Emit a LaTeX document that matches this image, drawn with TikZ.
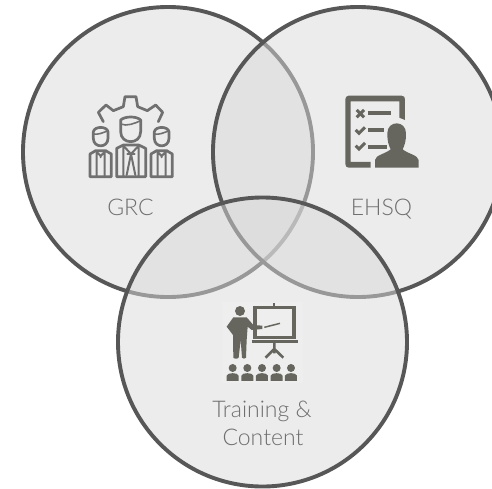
\documentclass[tikz,border=0pt]{standalone}
\usepackage{fontspec}
\setmainfont[UprightFont=* Light]{Lato}
\definecolor{ringc}{HTML}{575757}
\definecolor{fillc}{HTML}{DADADA}
\definecolor{iconc}{HTML}{66665F}
\definecolor{gearc}{HTML}{707070}
\definecolor{labelc}{HTML}{6E6E6E}
\tikzset{
  ring/.style={draw=ringc,line width=3.9pt,fill=fillc,fill opacity=.5},
  lab/.style={text=labelc,font=\fontsize{23}{28}\selectfont,align=center,inner sep=0pt},
  gearline/.style={draw=gearc,line width=2.7pt,line join=round,line cap=round,fill=none},
  solid icon/.style={fill=iconc,draw=none}
}
\begin{document}
\begin{tikzpicture}[x=1pt,y=-1pt]
\useasboundingbox (0,0) rectangle (492,488);
\clip (0,0) rectangle (492,488);
\fill[white] (0,0) rectangle (492,488);
\path[ring] (168,152) circle[radius=145];
\path[ring] (358,152) circle[radius=145];
\path[ring] (262.5,342) circle[radius=144.5];
% GRC icon
\begin{scope}[shift={(70,80)},x=.3333pt,y=-.3333pt]
\draw[gearline] (100,125)--(85,97)--(108,75)--(130,92)--(160,80)--(165,50)--(198,50)--(203,80)--(232,92)--(257,75)--(278,97)--(265,125);
\draw[gearline] (152,120) .. controls (165,108) and (200,108) .. (212,120) -- (212,155) .. controls (212,195) and (152,195) .. (152,155) -- cycle;
\draw[gearline,line width=1.6pt] (152,132) .. controls (170,140) and (195,130) .. (212,122);
\foreach \cx in {92,275}{
  \draw[gearline] (\cx-22,155) .. controls (\cx-18,138) and (\cx+18,138) .. (\cx+22,155) -- (\cx+22,175) .. controls (\cx+22,205) and (\cx-22,205) .. (\cx-22,175) -- cycle;
  \draw[gearline,line width=1.6pt] (\cx-22,162) .. controls (\cx-8,165) and (\cx+8,158) .. (\cx+22,152);
  \draw[gearline] (\cx-32,290) -- (\cx-32,222) -- (\cx-15,212) -- (\cx+15,212) -- (\cx+32,222) -- (\cx+32,290) -- cycle;
  \draw[gearline,line width=2pt] (\cx-12,214) -- (\cx-12,290) (\cx+12,214) -- (\cx+12,290) (\cx-14,214) -- (\cx,228) -- (\cx+14,214) (\cx,228) -- (\cx,232);
}
\draw[gearline] (140,290) -- (140,205) -- (160,195) -- (206,195) -- (227,205) -- (227,290) -- cycle;
\draw[gearline,line width=2pt] (160,197) -- (183,222) -- (206,197) (183,222) -- (170,285) (183,222) -- (196,285) (160,197) -- (160,290) (206,197) -- (206,290) (172,222) -- (194,222);
\end{scope}
% EHSQ icon
\begin{scope}[shift={(330,80)},x=.3333pt,y=-.3333pt]
\draw[solid icon,even odd rule] (56,47) -- (215,47) .. controls (222,47) and (225,52) .. (225,58) -- (225,120) -- (208,113) -- (208,64) -- (62,64) -- (62,246) -- (122,246) -- (122,263) -- (56,263) .. controls (50,263) and (46,258) .. (46,252) -- (46,58) .. controls (46,52) and (50,47) .. (56,47) -- cycle;
\draw[iconc,line width=3pt] (80,90) -- (102,112) (102,90) -- (80,112);
\fill[iconc] (115,94) rectangle (183,106);
\draw[iconc,line width=3pt] (77,150) -- (87,160) -- (105,142);
\fill[iconc] (115,145) rectangle (163,157);
\draw[iconc,line width=3pt] (77,197) -- (87,207) -- (105,189);
\fill[iconc] (115,195) rectangle (170,207);
\fill[iconc] (135,263) -- (135,240) .. controls (137,225) and (165,222) .. (182,208) .. controls (176,195) and (172,185) .. (172,160) .. controls (172,120) and (228,120) .. (228,160) .. controls (228,185) and (224,195) .. (218,208) .. controls (235,222) and (263,225) .. (266,240) -- (266,263) -- cycle;
\end{scope}
% Training icon
\begin{scope}[shift={(200,285)},x=.3333pt,y=-.3333pt]
\fill[white,opacity=.12] (65,50) rectangle (310,295);
\fill[iconc] (120,78) circle[radius=15];
\fill[iconc] (100,97) -- (140,97) -- (160,120) -- (187,122) -- (187,132) -- (155,135) -- (143,125) -- (140,165) -- (138,218) .. controls (136,222) and (128,222) .. (126,218) -- (122,165) -- (116,218) .. controls (114,222) and (102,222) .. (100,218) -- (99,150) -- (80,125) -- cycle;
\draw[iconc,line width=1.5pt] (193,127) -- (240,115);
\draw[iconc,line width=3.4pt] (165,68) rectangle (282,158);
\fill[iconc] (220,55) rectangle (226,68);
\fill[iconc] (262,155) rectangle (275,160);
\fill[iconc] (155,164) rectangle (293,173);
\draw[iconc,line width=2.6pt] (223,173) -- (223,205) (223,192) -- (197,218) (223,192) -- (250,218);
\foreach \cx in {98,142,186,230,273}{
  \fill[iconc] (\cx,249) circle[radius=12];
  \fill[iconc] (\cx-18,288) -- (\cx-18,272) .. controls (\cx-16,262) and (\cx+16,262) .. (\cx+18,272) -- (\cx+18,288) -- cycle;
}
\end{scope}
\node[lab,anchor=base] (grc) at (130.5,215) {GRC};
\node[lab,anchor=base] (ehsq) at (381.5,215) {EHSQ};
\node[lab,anchor=base] (train1) at (262,417) {Training \&};
\node[lab,anchor=base] (train2) at (263,445) {Content};
\end{tikzpicture}
\end{document}
